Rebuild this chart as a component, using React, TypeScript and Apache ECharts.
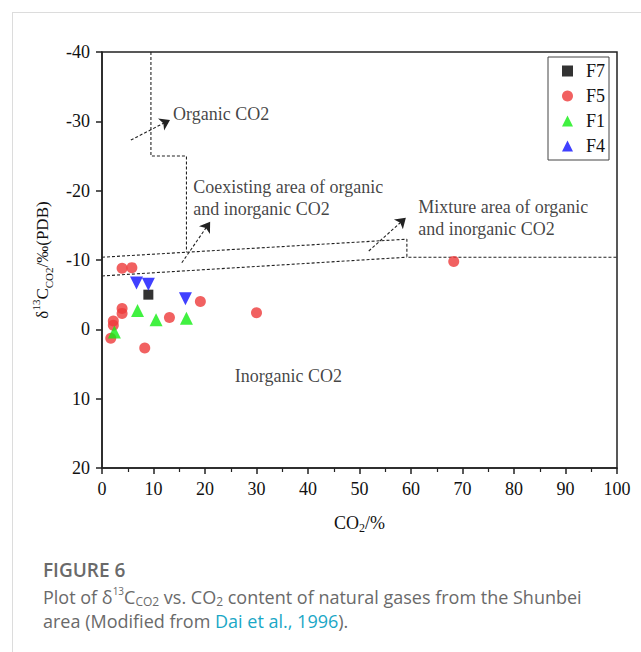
import React, { useEffect, useRef } from "react";
import * as echarts from "echarts";

// ---- Data ----
const xTickLabels = ["0", "10", "20", "30", "40", "50", "60", "70", "80", "90", "100"];
const yTickLabels = ["-40", "-30", "-20", "-10", "0", "10", "20"];

const f7Points: [number, number][] = [[9.0, -5.0]];
const f5Points: [number, number][] = [
  [3.9, -8.8], [5.8, -8.9], [19.1, -4.0], [3.9, -3.0], [3.9, -2.3], [13.1, -1.7],
  [2.2, -1.2], [2.2, -0.6], [1.7, 1.3], [8.3, 2.7], [30.0, -2.4], [68.3, -9.8],
];
const f1Points: [number, number][] = [[6.9, -2.7], [10.5, -1.4], [16.4, -1.6], [2.4, 0.4]];
const f4Points: [number, number][] = [[6.7, -6.7], [9.0, -6.5], [16.2, -4.4]];

const organicBoundary: [number, number][] = [[9.5, -40], [9.5, -25], [16.4, -25], [16.4, -11.1]];
const upperBoundary: [number, number][] = [[0, -10.4], [59.2, -13.0], [59.2, -10.4], [100, -10.4]];
const lowerBoundary: [number, number][] = [[0, -7.7], [59.2, -10.4]];
const arrows: [number, number][][] = [
  [[5.6, -27.3], [13.2, -30.2]],
  [[15.5, -9.6], [21.0, -15.5]],
  [[51.8, -11.3], [59.0, -16.1]],
];
const annotations = [
  { name: "Organic CO2", value: [13.8, -31.0] },
  { name: "Coexisting area of organic\nand inorganic CO2", value: [17.7, -18.9] },
  { name: "Mixture area of organic\nand inorganic CO2", value: [61.4, -16.0] },
  { name: "Inorganic CO2", value: [25.8, 6.8] },
];

const SERIF = "'Liberation Serif', 'Times New Roman', serif";
const SANS = "'Open Sans', Lato, sans-serif";

export default function App() {
  const ref = useRef<HTMLDivElement>(null);
  useEffect(() => {
    if (!ref.current) return;
    const chart = echarts.init(ref.current, undefined, { renderer: "svg" });
    const dashed = { type: [3, 2] as any, color: "#222", width: 1.1 };
    chart.setOption({
      animation: false,
      backgroundColor: "#fff",
      grid: {
        left: 102, top: 52, width: 515, height: 416,
        show: true, borderColor: "#222", borderWidth: 1.5, backgroundColor: "transparent",
      },
      legend: {
        data: ["F7", "F5", "F1", "F4"],
        orient: "vertical",
        left: 548, top: 57,
        borderColor: "#444", borderWidth: 1,
        padding: [5, 4, 5, 14],
        itemGap: 7,
        itemWidth: 11, itemHeight: 11,
        backgroundColor: "#fff",
        textStyle: { fontFamily: SERIF, fontSize: 18, color: "#111", padding: [0, 0, 0, 8] },
      },
      xAxis: {
        type: "value", min: 0, max: 100, interval: 10,
        axisLine: { show: true, onZero: false, lineStyle: { color: "#222", width: 1.5 } },
        axisTick: { show: true, inside: false, length: 6, lineStyle: { color: "#222", width: 1.5 } },
        minorTick: { show: true, splitNumber: 2, length: 4, lineStyle: { color: "#222", width: 1.2 } },
        splitLine: { show: false },
        axisLabel: {
          margin: 12, fontFamily: SERIF, fontSize: 18, color: "#111",
          formatter: (v: number) => xTickLabels[Math.round(v / 10)] ?? String(v),
        },
        name: "{a|CO}{sub|2}{a|/%}",
        nameLocation: "middle",
        nameGap: 44,
        nameTextStyle: {
          rich: {
            a: { fontFamily: SERIF, fontSize: 18, color: "#111", lineHeight: 22 },
            sub: { fontFamily: SERIF, fontSize: 12, color: "#111", verticalAlign: "bottom" },
          },
        },
      },
      yAxis: {
        type: "value", min: -40, max: 20, interval: 10, inverse: true,
        axisLine: { show: true, onZero: false, lineStyle: { color: "#222", width: 1.5 } },
        axisTick: { show: true, inside: false, length: 6, lineStyle: { color: "#222", width: 1.5 } },
        splitLine: { show: false },
        axisLabel: {
          margin: 12, fontFamily: SERIF, fontSize: 18, color: "#111",
          formatter: (v: number) => yTickLabels[Math.round((v + 40) / 10)] ?? String(v),
        },
        name: "{a|δ}{sup|13}{a|C}{sub|CO2}{a|/‰(PDB)}",
        nameLocation: "middle",
        nameRotate: 90,
        nameGap: 48,
        nameTextStyle: {
          rich: {
            a: { fontFamily: SERIF, fontSize: 17, color: "#111", lineHeight: 24 },
            sup: { fontFamily: SERIF, fontSize: 11, color: "#111", verticalAlign: "top" },
            sub: { fontFamily: SERIF, fontSize: 11, color: "#111", verticalAlign: "bottom" },
          },
        },
      },
      series: [
        { name: "organic-boundary", type: "line", data: organicBoundary, showSymbol: false, symbol: "none", silent: true, lineStyle: dashed, z: 1 },
        { name: "upper-boundary", type: "line", data: upperBoundary, showSymbol: false, symbol: "none", silent: true, lineStyle: dashed, z: 1 },
        { name: "lower-boundary", type: "line", data: lowerBoundary, showSymbol: false, symbol: "none", silent: true, lineStyle: dashed, z: 1 },
        {
          name: "arrows", type: "lines", coordinateSystem: "cartesian2d", silent: true, z: 1,
          symbol: ["none", "arrow"], symbolSize: 10,
          lineStyle: { ...dashed, opacity: 1 },
          data: arrows.map((c) => ({ coords: c })),
        },
        {
          name: "annotations", type: "scatter", symbolSize: 0, silent: true, z: 3,
          data: annotations,
          label: {
            show: true, position: "right", distance: 0, formatter: "{b}",
            fontFamily: SERIF, fontSize: 18, color: "#111", lineHeight: 22, align: "left",
          },
        },
        { name: "F7", type: "scatter", symbol: "rect", symbolSize: 10, data: f7Points, itemStyle: { color: "#000" }, z: 5 },
        { name: "F5", type: "scatter", symbol: "circle", symbolSize: 11, data: f5Points, itemStyle: { color: "#ee3a3a" }, z: 5 },
        { name: "F1", type: "scatter", symbol: "triangle", symbolSize: 13, data: f1Points, itemStyle: { color: "#11ee11" }, z: 5 },
        { name: "F4", type: "scatter", symbol: "triangle", symbolRotate: 180, symbolSize: 13, data: f4Points, itemStyle: { color: "#1010ff" }, z: 5 },
      ],
      graphic: [
        { type: "line", shape: { x1: 12, y1: 12.5, x2: 641, y2: 12.5 }, style: { stroke: "#dcdcdc", lineWidth: 1 }, silent: true },
        { type: "line", shape: { x1: 12.5, y1: 12, x2: 12.5, y2: 652 }, style: { stroke: "#dcdcdc", lineWidth: 1 }, silent: true },
        {
          type: "text", left: 43, top: 560,
          style: { text: "FIGURE 6", font: `600 19px ${SANS}`, fill: "#6a6a6a" },
        },
        {
          type: "text", left: 43, top: 586,
          style: {
            text: "{t|Plot of δ}{sup|13}{t|C}{sub|CO2}{t| vs. CO}{sub|2}{t| content of natural gases from the Shunbei}",
            rich: {
              t: { fontFamily: SANS, fontSize: 18, fill: "#6a6a6a", lineHeight: 21 },
              sup: { fontFamily: SANS, fontSize: 10, fill: "#6a6a6a", lineHeight: 11, verticalAlign: "top" },
              sub: { fontFamily: SANS, fontSize: 12, fill: "#6a6a6a", lineHeight: 13, verticalAlign: "bottom" },
            },
          },
        },
        {
          type: "text", left: 43, top: 612,
          style: {
            text: "{t|area (Modified from }{l|Dai et al., 1996}{t|).}",
            rich: {
              t: { fontFamily: SANS, fontSize: 18, fill: "#6a6a6a", lineHeight: 21 },
              l: { fontFamily: SANS, fontSize: 18, fill: "#1aa7c6", lineHeight: 21 },
            },
          },
        },
      ],
    });
    return () => chart.dispose();
  }, []);
  return (
    <div
      ref={ref}
      style={{ position: "fixed", left: 0, top: 0, width: 641, height: 652, background: "#fff" }}
    />
  );
}
